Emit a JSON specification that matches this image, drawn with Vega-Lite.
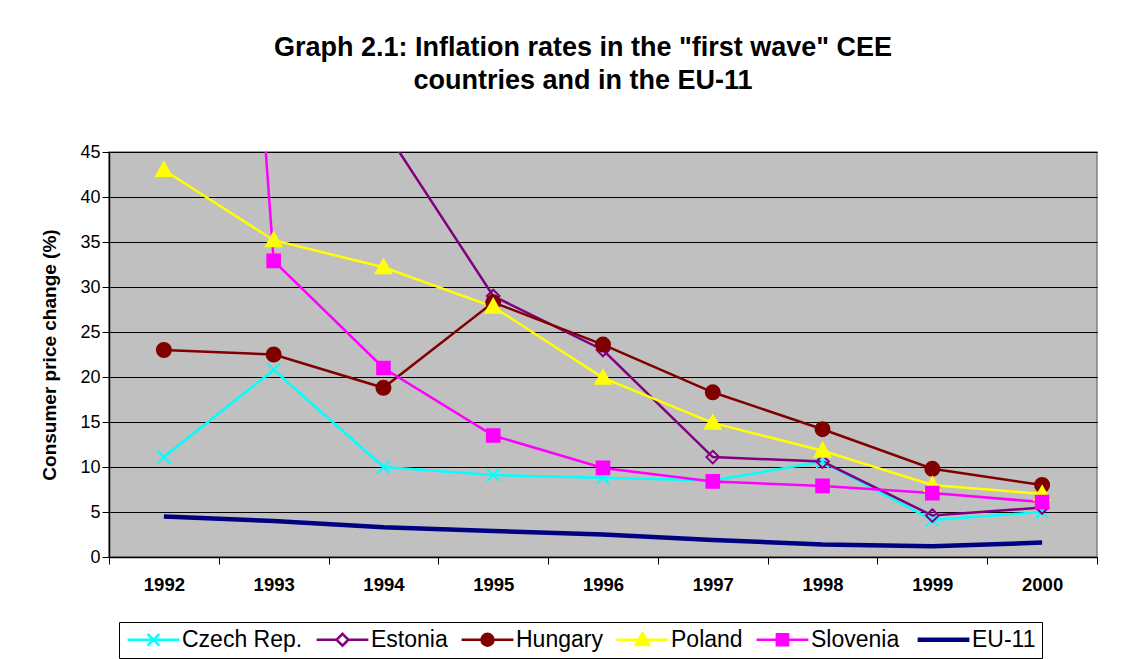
{
  "$schema": "https://vega.github.io/schema/vega-lite/v6.json",
  "autosize": {"type": "none"},
  "padding": {"left": 109, "top": 152, "right": 45, "bottom": 102},
  "width": 988,
  "height": 405,
  "background": "white",
  "config": {
    "font": "Liberation Sans",
    "view": {"stroke": "#808080", "strokeWidth": 1.5, "fill": "#C0C0C0"},
    "axis": {"domainColor": "black", "tickColor": "black", "labelColor": "black", "titleColor": "black"}
  },
  "title": {
    "text": ["Graph 2.1: Inflation rates in the \"first wave\" CEE", "countries and in the EU-11"],
    "fontSize": 27,
    "fontWeight": "bold",
    "font": "Liberation Sans",
    "color": "black",
    "lineHeight": 33,
    "anchor": "middle",
    "dx": -20,
    "offset": 48
  },
  "data": {
    "values": [
      {"year": "1992", "series": "Czech Rep.", "value": 11.1},
      {"year": "1993", "series": "Czech Rep.", "value": 20.8},
      {"year": "1994", "series": "Czech Rep.", "value": 10.0},
      {"year": "1995", "series": "Czech Rep.", "value": 9.1},
      {"year": "1996", "series": "Czech Rep.", "value": 8.8},
      {"year": "1997", "series": "Czech Rep.", "value": 8.5},
      {"year": "1998", "series": "Czech Rep.", "value": 10.6},
      {"year": "1999", "series": "Czech Rep.", "value": 4.1},
      {"year": "2000", "series": "Czech Rep.", "value": 5.0},
      {"year": "1992", "series": "Estonia", "value": 1076},
      {"year": "1993", "series": "Estonia", "value": 89.8},
      {"year": "1994", "series": "Estonia", "value": 47.7},
      {"year": "1995", "series": "Estonia", "value": 29.0},
      {"year": "1996", "series": "Estonia", "value": 23.0},
      {"year": "1997", "series": "Estonia", "value": 11.1},
      {"year": "1998", "series": "Estonia", "value": 10.6},
      {"year": "1999", "series": "Estonia", "value": 4.6},
      {"year": "2000", "series": "Estonia", "value": 5.5},
      {"year": "1992", "series": "Hungary", "value": 23.0},
      {"year": "1993", "series": "Hungary", "value": 22.5},
      {"year": "1994", "series": "Hungary", "value": 18.8},
      {"year": "1995", "series": "Hungary", "value": 28.3},
      {"year": "1996", "series": "Hungary", "value": 23.6},
      {"year": "1997", "series": "Hungary", "value": 18.3},
      {"year": "1998", "series": "Hungary", "value": 14.2},
      {"year": "1999", "series": "Hungary", "value": 9.8},
      {"year": "2000", "series": "Hungary", "value": 8.0},
      {"year": "1992", "series": "Poland", "value": 43.0},
      {"year": "1993", "series": "Poland", "value": 35.2},
      {"year": "1994", "series": "Poland", "value": 32.2},
      {"year": "1995", "series": "Poland", "value": 27.8},
      {"year": "1996", "series": "Poland", "value": 19.9},
      {"year": "1997", "series": "Poland", "value": 14.9},
      {"year": "1998", "series": "Poland", "value": 11.8},
      {"year": "1999", "series": "Poland", "value": 8.0},
      {"year": "2000", "series": "Poland", "value": 7.0},
      {"year": "1992", "series": "Slovenia", "value": 201.3},
      {"year": "1993", "series": "Slovenia", "value": 32.9},
      {"year": "1994", "series": "Slovenia", "value": 21.0},
      {"year": "1995", "series": "Slovenia", "value": 13.5},
      {"year": "1996", "series": "Slovenia", "value": 9.9},
      {"year": "1997", "series": "Slovenia", "value": 8.4},
      {"year": "1998", "series": "Slovenia", "value": 7.9},
      {"year": "1999", "series": "Slovenia", "value": 7.1},
      {"year": "2000", "series": "Slovenia", "value": 6.1},
      {"year": "1992", "series": "EU-11", "value": 4.5},
      {"year": "1993", "series": "EU-11", "value": 4.0},
      {"year": "1994", "series": "EU-11", "value": 3.3},
      {"year": "1995", "series": "EU-11", "value": 2.9},
      {"year": "1996", "series": "EU-11", "value": 2.5},
      {"year": "1997", "series": "EU-11", "value": 1.9},
      {"year": "1998", "series": "EU-11", "value": 1.4},
      {"year": "1999", "series": "EU-11", "value": 1.2},
      {"year": "2000", "series": "EU-11", "value": 1.6}
    ]
  },
  "encoding": {
    "x": {
      "field": "year",
      "type": "ordinal",
      "scale": {"type": "band", "paddingInner": 0, "paddingOuter": 0},
      "axis": {
        "title": null,
        "labelAngle": 0,
        "labelFontSize": 18.5,
        "labelFontWeight": "bold",
        "tickBand": "extent",
        "tickSize": 7,
        "labelPadding": 11,
        "domainWidth": 1.5
      }
    },
    "y": {
      "field": "value",
      "type": "quantitative",
      "scale": {"domain": [0, 45], "nice": false, "zero": true},
      "axis": {
        "title": "Consumer price change (%)",
        "titleFontSize": 19,
        "titleFontWeight": "bold",
        "titlePadding": 20,
        "values": [0, 5, 10, 15, 20, 25, 30, 35, 40, 45],
        "labelFontSize": 18,
        "labelPadding": 2,
        "tickSize": 7,
        "domainWidth": 1.5,
        "grid": true,
        "gridColor": "black",
        "gridWidth": 1
      }
    }
  },
  "layer": [
    {
      "transform": [{"filter": "datum.series === 'EU-11'"}],
      "mark": {"type": "line", "clip": true, "strokeWidth": 4.5},
      "encoding": {
        "color": {"field": "series", "type": "nominal",
          "scale": {"domain": ["Czech Rep.", "Estonia", "Hungary", "Poland", "Slovenia", "EU-11"],
                    "range": ["#00FFFF", "#800080", "#800000", "#FFFF00", "#FF00FF", "#000080"]}}
      }
    },
    {
      "transform": [{"filter": "datum.series !== 'EU-11'"}],
      "mark": {"type": "line", "clip": true, "strokeWidth": 2.5},
      "encoding": {
        "color": {
          "field": "series",
          "type": "nominal",
          "scale": {"domain": ["Czech Rep.", "Estonia", "Hungary", "Poland", "Slovenia", "EU-11"],
                    "range": ["#00FFFF", "#800080", "#800000", "#FFFF00", "#FF00FF", "#000080"]},
          "legend": {
            "title": null,
            "orient": "none",
            "direction": "horizontal",
            "columns": 6,
            "legendX": 10,
            "legendY": 470,
            "strokeColor": "black",
            "fillColor": "white",
            "padding": 6,
            "columnPadding": 8,
            "labelFontSize": 23,
            "labelColor": "black",
            "labelFont": "Liberation Sans",
            "labelLimit": 300,
            "symbolSize": 196,
            "symbolOffset": 17,
            "labelOffset": 17,
            "encode": {
              "symbols": {
                "update": {
                  "shape": {"signal": "datum.value === 'Czech Rep.' ? 'M-3.7,0L3.7,0M-0.85,-0.85L0.85,0.85M-0.85,0.85L0.85,-0.85' : datum.value === 'Estonia' ? 'M-3.7,0L-0.85,0M0.85,0L3.7,0M0,-0.85L0.85,0L0,0.85L-0.85,0Z' : datum.value === 'Hungary' ? 'M-3.7,0L3.7,0M0.85,0A0.85,0.85,0,1,1,-0.85,0A0.85,0.85,0,1,1,0.85,0Z' : datum.value === 'Poland' ? 'M-3.7,0L3.7,0M0,-0.95L0.95,0.75L-0.95,0.75Z' : datum.value === 'Slovenia' ? 'M-3.7,0L3.7,0M-0.8,-0.8L0.8,-0.8L0.8,0.8L-0.8,0.8Z' : 'M-3.7,0L3.7,0'"},
                  "fill": {"signal": "datum.value === 'Estonia' ? 'white' : datum.value === 'Hungary' ? '#800000' : datum.value === 'Poland' ? '#FFFF00' : datum.value === 'Slovenia' ? '#FF00FF' : 'transparent'"},
                  "strokeWidth": {"signal": "datum.value === 'EU-11' ? 4.5 : 2.5"}
                }
              }
            }
          }
        }
      }
    },
    {
      "transform": [{"filter": "datum.series !== 'EU-11' && datum.value <= 45"}],
      "mark": {"type": "point", "clip": true, "size": 196, "strokeWidth": 2, "opacity": 1},
      "encoding": {
        "shape": {"field": "series", "type": "nominal", "legend": null,
          "scale": {"domain": ["Czech Rep.", "Estonia", "Hungary", "Poland", "Slovenia"],
                    "range": ["M-0.9,-0.9L0.9,0.9M-0.9,0.9L0.9,-0.9", "M0,-0.9L0.9,0L0,0.9L-0.9,0Z", "M1,0A1,1,0,1,1,-1,0A1,1,0,1,1,1,0Z", "M0,-1.1L1.1,0.85L-1.1,0.85Z", "M-0.9,-0.9L0.9,-0.9L0.9,0.9L-0.9,0.9Z"]}},
        "fill": {"field": "series", "type": "nominal", "legend": null,
          "scale": {"domain": ["Czech Rep.", "Estonia", "Hungary", "Poland", "Slovenia"],
                    "range": ["transparent", "transparent", "#800000", "#FFFF00", "#FF00FF"]}},
        "stroke": {"field": "series", "type": "nominal", "legend": null,
          "scale": {"domain": ["Czech Rep.", "Estonia", "Hungary", "Poland", "Slovenia"],
                    "range": ["#00FFFF", "#800080", "#800000", "#FFFF00", "#FF00FF"]}}
      }
    }
  ]
}
